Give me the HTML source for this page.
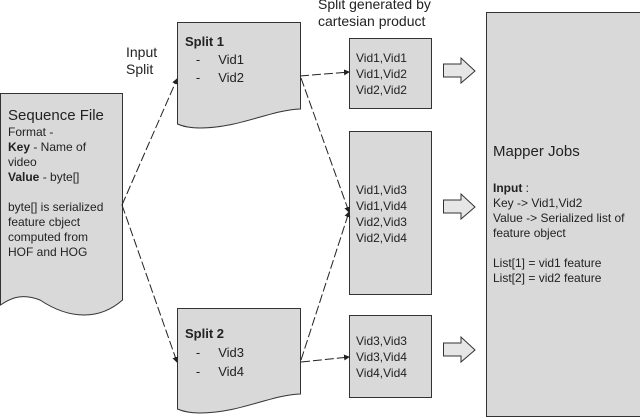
<!DOCTYPE html>
<html><head><style>
body{margin:0;width:640px;height:418px;background:#fff;overflow:hidden;position:relative;font-family:"Liberation Sans",sans-serif;color:#222}
.t{position:absolute;font-size:12px;line-height:14px;white-space:nowrap}
b{font-weight:bold}
</style></head><body>
<svg width="640" height="418" style="position:absolute;left:0;top:0">
<defs><marker id="a" markerWidth="6" markerHeight="6" refX="5" refY="3" orient="auto"><path d="M0,0 L6,3 L0,6z" fill="#222"/></marker></defs>
<path d="M0.5,93.5 H122.5 V300 C100,320 70,320 40,300 C20,292 8,300 0.5,305 Z" fill="#d9d9d9" stroke="#333"/>
<path d="M177.5,22.5 H300.5 V109 C270,110 240,128 200,128 C190,128 182,126 177.5,124 Z" fill="#d9d9d9" stroke="#333"/>
<path d="M177.5,308.5 H300.5 V394 C270,395 240,413 200,413 C190,413 182,411 177.5,409 Z" fill="#d9d9d9" stroke="#333"/>
<rect x="349.5" y="38.5" width="82" height="70" fill="#d9d9d9" stroke="#333"/>
<rect x="349.5" y="131.5" width="82" height="163" fill="#d9d9d9" stroke="#333"/>
<rect x="349.5" y="315.5" width="82" height="82" fill="#d9d9d9" stroke="#333"/>
<rect x="486.5" y="12.5" width="160" height="404" fill="#d9d9d9" stroke="#333"/>
<g fill="#e6e6e6" stroke="#333">
<path d="M443.5,64 H461 V58 L475,71 L461,83 V77 H443.5 Z"/>
<path d="M443.5,200 H461 V194 L475,207 L461,219 V213 H443.5 Z"/>
<path d="M443.5,343 H461 V337 L475,350 L461,362 V356 H443.5 Z"/>
</g>
<g stroke="#222" fill="none" stroke-dasharray="9,3" marker-end="url(#a)">
<line x1="122" y1="205" x2="177" y2="79"/>
<line x1="122" y1="205" x2="177" y2="362"/>
<line x1="300" y1="76" x2="349" y2="72"/>
<line x1="301" y1="78" x2="349" y2="212"/>
<line x1="301" y1="360" x2="349" y2="212"/>
<line x1="301" y1="362" x2="349" y2="357"/>
</g>
</svg>
<div class="t" style="left:126px;top:44px;font-size:14px;line-height:17px">Input<br>Split</div>
<div class="t" style="left:318px;top:-4px;font-size:14px;line-height:17px">Split generated by<br>cartesian product</div>
<div class="t" style="left:185px;top:33px;font-size:13px;line-height:18px"><b>Split 1</b><br>&nbsp;&nbsp;&nbsp;-&nbsp;&nbsp;&nbsp;&nbsp;&nbsp;Vid1<br>&nbsp;&nbsp;&nbsp;-&nbsp;&nbsp;&nbsp;&nbsp;&nbsp;Vid2</div>
<div class="t" style="left:185px;top:324px;font-size:13px;line-height:19px"><b>Split 2</b><br>&nbsp;&nbsp;&nbsp;-&nbsp;&nbsp;&nbsp;&nbsp;&nbsp;Vid3<br>&nbsp;&nbsp;&nbsp;-&nbsp;&nbsp;&nbsp;&nbsp;&nbsp;Vid4</div>
<div class="t" style="left:8px;top:107px;font-size:15px;line-height:18px">Sequence File</div>
<div class="t" style="left:8px;top:125px;line-height:15px">Format -<br><b>Key</b> - Name of<br>video<br><b>Value</b> - byte[]<br><br>byte[] is serialized<br>feature cbject<br>computed from<br>HOF and HOG</div>
<div class="t" style="left:356px;top:50px;line-height:16px">Vid1,Vid1<br>Vid1,Vid2<br>Vid2,Vid2</div>
<div class="t" style="left:356px;top:182px;line-height:16px">Vid1,Vid3<br>Vid1,Vid4<br>Vid2,Vid3<br>Vid2,Vid4</div>
<div class="t" style="left:356px;top:333px;line-height:16px">Vid3,Vid3<br>Vid3,Vid4<br>Vid4,Vid4</div>
<div class="t" style="left:493px;top:143px;font-size:15px;line-height:18px">Mapper Jobs</div>
<div class="t" style="left:493px;top:181px;line-height:15px"><b>Input</b> :<br>Key -&gt; Vid1,Vid2<br>Value -&gt; Serialized list of<br>feature object<br><br>List[1] = vid1 feature<br>List[2] = vid2 feature</div>
</body></html>
